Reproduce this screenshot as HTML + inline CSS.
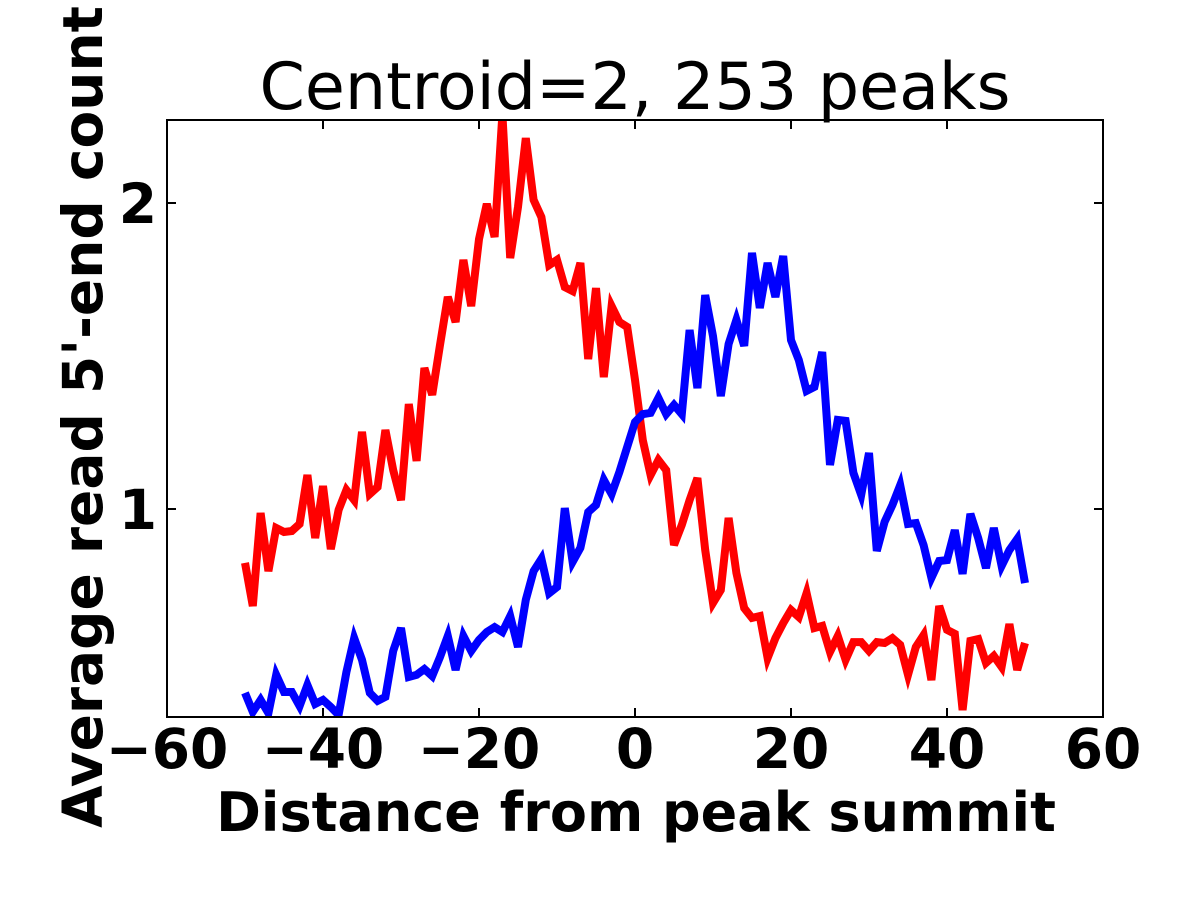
<!DOCTYPE html>
<html><head><meta charset="utf-8"><style>
body{margin:0;background:#fff;}
svg{display:block;font-family:"DejaVu Sans","Liberation Sans",sans-serif;}
</style></head><body>
<svg id="chart" width="1200" height="900" viewBox="0 0 1200 900" xmlns="http://www.w3.org/2000/svg">
<rect width="1200" height="900" fill="#fff"/>
<defs><clipPath id="clip"><rect x="167" y="120" width="936" height="597"/></clipPath></defs>
<text x="635" y="109" font-size="65" text-anchor="middle">Centroid=2, 253 peaks</text>
<g id="series" clip-path="url(#clip)"></g>
<g id="axes"></g>
<rect x="167" y="120" width="936" height="597" fill="none" stroke="#000" stroke-width="2"/>
<text x="636" y="831" font-size="54" font-weight="bold" text-anchor="middle">Distance from peak summit</text>
<text x="0" y="0" font-size="55" font-weight="bold" text-anchor="middle" transform="translate(102,417) rotate(-90)">Average read 5'-end count</text>
</svg>
<script>
const xTicks=[-60,-40,-20,0,20,40,60];
const yTicks=[1,2];
const xStart=-50;
const redValues=[0.824,0.683,0.987,0.797,0.938,0.925,0.928,0.951,1.111,0.905,1.075,0.869,0.997,1.062,1.029,1.252,1.049,1.072,1.258,1.127,1.029,1.343,1.157,1.461,1.373,1.536,1.693,1.611,1.814,1.663,1.882,1.997,1.889,2.29,1.820,1.987,2.212,2.010,1.954,1.797,1.814,1.725,1.712,1.804,1.490,1.722,1.431,1.663,1.611,1.595,1.422,1.225,1.111,1.160,1.127,0.882,0.948,1.029,1.101,0.866,0.693,0.735,0.971,0.791,0.676,0.644,0.650,0.513,0.578,0.627,0.670,0.647,0.725,0.611,0.618,0.533,0.585,0.507,0.565,0.565,0.536,0.565,0.562,0.578,0.556,0.458,0.549,0.588,0.441,0.683,0.605,0.592,0.343,0.569,0.575,0.497,0.520,0.484,0.624,0.474,0.562];
const blueValues=[0.399,0.337,0.376,0.333,0.458,0.402,0.402,0.356,0.425,0.363,0.376,0.353,0.327,0.467,0.578,0.507,0.399,0.373,0.386,0.536,0.611,0.451,0.458,0.477,0.454,0.516,0.585,0.474,0.585,0.536,0.572,0.598,0.614,0.598,0.650,0.549,0.703,0.797,0.837,0.725,0.745,1.003,0.827,0.873,0.990,1.013,1.095,1.049,1.121,1.203,1.284,1.310,1.314,1.363,1.310,1.340,1.310,1.585,1.395,1.699,1.565,1.369,1.539,1.618,1.533,1.837,1.657,1.804,1.693,1.827,1.552,1.487,1.386,1.399,1.513,1.144,1.291,1.288,1.118,1.046,1.183,0.863,0.958,1.013,1.078,0.951,0.954,0.882,0.775,0.830,0.833,0.931,0.788,0.984,0.905,0.807,0.938,0.814,0.866,0.902,0.758];
const NS='http://www.w3.org/2000/svg';
const X=v=>635+v*7.8;
const Y=v=>509-(v-1)*306;
const series=document.getElementById('series');
function line(vals,color,name){
  const p=document.createElementNS(NS,'polyline');
  p.setAttribute('points',vals.map((v,i)=>X(xStart+i)+','+Y(v)).join(' '));
  p.setAttribute('fill','none');p.setAttribute('stroke',color);
  p.setAttribute('stroke-width','8');p.setAttribute('stroke-linejoin','miter');
  
  
  series.appendChild(p);
}
line(redValues,'#ff0000','red-series-line');
line(blueValues,'#0000ff','blue-series-line');
const axes=document.getElementById('axes');
function mk(tag,attrs){const e=document.createElementNS(NS,tag);for(const k in attrs)e.setAttribute(k,attrs[k]);axes.appendChild(e);return e;}
xTicks.forEach(t=>{
  const x=X(t);
  const a=mk('line',{x1:x,x2:x,y1:717,y2:708,stroke:'#000','stroke-width':2});
  
  
  const b=mk('line',{x1:x,x2:x,y1:120,y2:129,stroke:'#000','stroke-width':2});
  
  
  const l=mk('text',{x:x,y:768,'font-size':55,'font-weight':'bold','text-anchor':'middle'});
  l.textContent=(t<0?'\u2212'+(-t):String(t));
  
  
});
yTicks.forEach(t=>{
  const y=Y(t);
  const a=mk('line',{x1:167,x2:176,y1:y,y2:y,stroke:'#000','stroke-width':2});
  
  
  const b=mk('line',{x1:1103,x2:1094,y1:y,y2:y,stroke:'#000','stroke-width':2});
  
  
  const l=mk('text',{x:157,y:y+20,'font-size':55,'font-weight':'bold','text-anchor':'end'});
  l.textContent=String(t);
  
  
});
</script>
</body></html>
